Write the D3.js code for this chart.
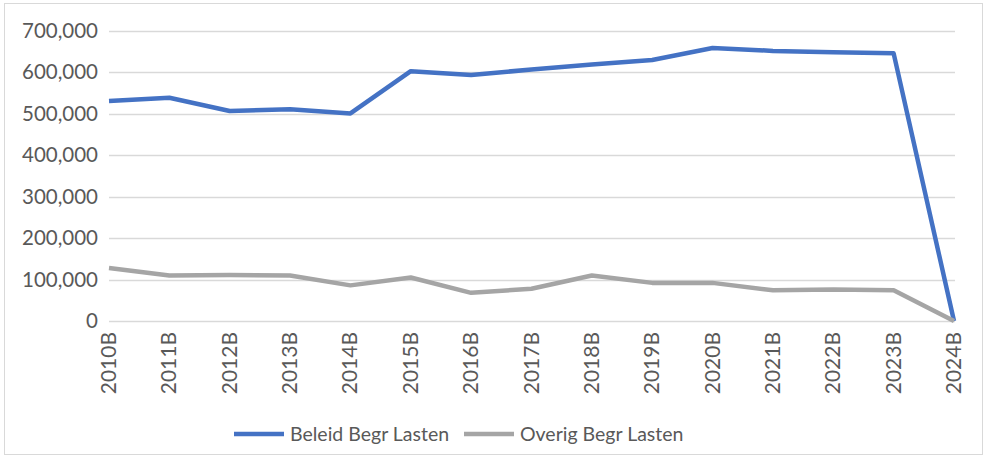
<!DOCTYPE html>
<html>
<head>
<meta charset="utf-8">
<script src="https://cdn.jsdelivr.net/npm/d3@7"></script>
<style>
  body { margin: 0; background: #fff; }
  svg { display: block; font-family: Lato, "Open Sans", sans-serif; }
</style>
</head>
<body>
<div id="chart"></div>
<script>
let years = ["2010B", "2011B", "2012B", "2013B", "2014B", "2015B", "2016B", "2017B",
             "2018B", "2019B", "2020B", "2021B", "2022B", "2023B", "2024B"];
let beleid = [531000, 539000, 507000, 511000, 501000, 603000, 594000, 607000,
              619000, 630000, 659000, 652000, 649000, 646000, 0];
let overig = [128000, 110000, 111000, 110000, 86000, 105000, 68000, 78000,
              110000, 92000, 92000, 74000, 76000, 74000, 0];
let yTicks = [0, 100000, 200000, 300000, 400000, 500000, 600000, 700000];
let seriesNames = ["Beleid Begr Lasten", "Overig Begr Lasten"];
let colors = ["#4472C4", "#A5A5A5"];

let width = 986, height = 459;
let margin = {top: 31, right: 31, bottom: 138, left: 109};

let svg = d3.select("#chart")
            .append("svg")
            .attr("width", width)
            .attr("height", height);

// chart area border
svg.append("rect")
   .attr("x", 4.5).attr("y", 3.5)
   .attr("width", 978).attr("height", 451)
   .attr("fill", "#fff")
   .attr("stroke", "#D9D9D9");

let x = d3.scalePoint()
          .domain(years)
          .range([margin.left, width - margin.right - 1]);

let y = d3.scaleLinear()
          .domain([0, 700000])
          .range([height - margin.bottom, margin.top]);

// grid
svg.append("g")
   .selectAll("line")
   .data(yTicks)
   .enter()
   .append("line")
   .attr("x1", margin.left)
   .attr("x2", width - margin.right)
   .attr("y1", d => Math.round(y(d)) + 0.5)
   .attr("y2", d => Math.round(y(d)) + 0.5)
   .attr("stroke", "#D9D9D9")
   .attr("stroke-width", 1.3);

// y axis labels
svg.append("g")
   .attr("transform", "translate(" + (margin.left - 8) + ",0)")
   .style("font-size", "20.5px")
   .call(d3.axisLeft(y).tickValues(yTicks).tickSize(0).tickFormat(d3.format(",")))
   .call(g => g.select(".domain").remove())
   .call(g => g.selectAll("text").attr("fill", "#595959").attr("font-family", "Lato, sans-serif"));

// x axis labels
svg.append("g")
   .selectAll("text")
   .data(years)
   .enter()
   .append("text")
   .attr("transform", d => "translate(" + (x(d) + 7) + "," + (height - margin.bottom + 11) + ") rotate(-90)")
   .attr("text-anchor", "end")
   .attr("fill", "#595959")
   .style("font-size", "21px")
   .text(d => d);

let line = d3.line()
             .x((d, i) => x(years[i]))
             .y(d => y(d));

[beleid, overig].forEach((s, i) => {
  svg.append("path")
     .datum(s)
     .attr("fill", "none")
     .attr("stroke", colors[i])
     .attr("stroke-width", 4.5)
     .attr("stroke-linejoin", "round")
     .attr("d", line);
});

// legend
let legendX = [234, 464];
let legend = svg.selectAll(".legend")
                .data(seriesNames)
                .enter()
                .append("g")
                .attr("class", "legend")
                .attr("transform", (d, i) => "translate(" + legendX[i] + ",434)");

legend.append("line")
      .attr("x1", 0).attr("x2", 50)
      .attr("stroke", (d, i) => colors[i])
      .attr("stroke-width", 4.5);

legend.append("text")
      .attr("x", 56)
      .attr("dy", "0.35em")
      .attr("fill", "#595959")
      .style("font-size", "19.5px")
      .text(d => d);
</script>
</body>
</html>
